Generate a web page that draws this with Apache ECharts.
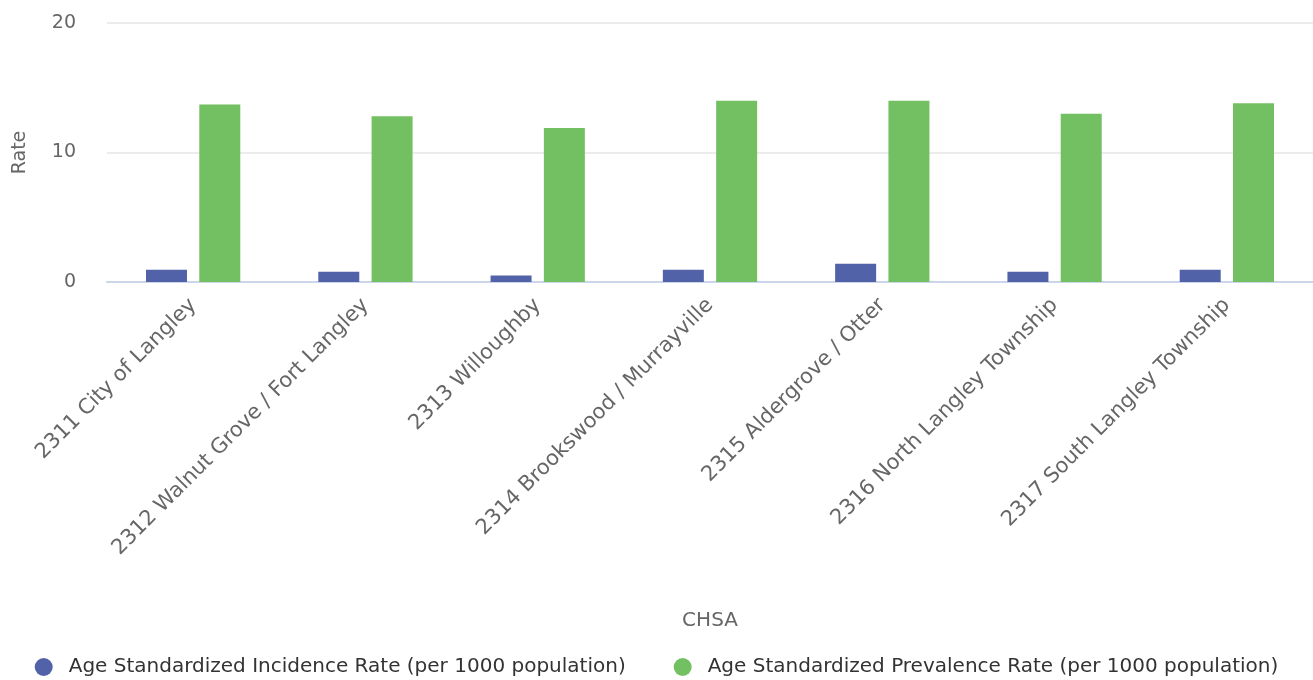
<!DOCTYPE html>
<html>
<head>
<meta charset="utf-8">
<script src="https://cdn.jsdelivr.net/npm/echarts@6/dist/echarts.min.js"></script>
<style>
  html, body { margin: 0; padding: 0; background: #fff; }
  #chart { width: 1313px; height: 680px; }
</style>
</head>
<body>
<div id="chart"></div>
<script>
// CHSA areas
var categories = [
  "2311 City of Langley",
  "2312 Walnut Grove / Fort Langley",
  "2313 Willoughby",
  "2314 Brookswood / Murrayville",
  "2315 Aldergrove / Otter",
  "2316 North Langley Township",
  "2317 South Langley Township"
];
var incidence = [0.95, 0.8, 0.5, 0.95, 1.4, 0.8, 0.95];
var prevalence = [13.7, 12.8, 11.9, 14.0, 14.0, 13.0, 13.8];
var yTicks = [0, 10, 20];

var font = "DejaVu Sans";
var myChart = echarts.init(document.getElementById("chart"));
var option = {
  backgroundColor: "#fff",
  animation: false,
  textStyle: { fontFamily: font },
  grid: { left: 107, right: 0, top: 23, bottom: 398 },
  legend: {
    top: 652,
    left: "center",
    icon: "circle",
    itemWidth: 18,
    itemHeight: 18,
    itemGap: 48,
    textStyle: { fontFamily: font, fontSize: 20, color: "#333", padding: [0, 0, 0, 11] },
    data: ["Age Standardized Incidence Rate (per 1000 population)", "Age Standardized Prevalence Rate (per 1000 population)"]
  },
  xAxis: {
    type: "category",
    data: categories,
    name: "CHSA",
    nameLocation: "middle",
    nameGap: 329,
    nameTextStyle: { fontSize: 20, color: "#666" },
    axisLine: { lineStyle: { color: "#ccd6eb", width: 2 } },
    axisTick: { show: false },
    axisLabel: { rotate: 45, fontSize: 21, color: "#666", margin: 20, interval: 0 }
  },
  yAxis: {
    type: "value",
    min: yTicks[0],
    max: yTicks[yTicks.length - 1],
    interval: 10,
    name: "Rate",
    nameLocation: "middle",
    nameGap: 77,
    nameTextStyle: { fontSize: 19, color: "#666" },
    axisLabel: { fontSize: 19, color: "#666", margin: 31 },
    splitLine: { lineStyle: { color: "#e6e6e6", width: 1.5 } }
  },
  series: [
    {
      name: "Age Standardized Incidence Rate (per 1000 population)",
      type: "bar",
      data: incidence,
      barWidth: 41,
      barGap: "30%",
      itemStyle: { color: "#5262a8" }
    },
    {
      name: "Age Standardized Prevalence Rate (per 1000 population)",
      type: "bar",
      data: prevalence,
      barWidth: 41,
      itemStyle: { color: "#72c062" }
    }
  ]
};
myChart.setOption(option);
</script>
</body>
</html>
